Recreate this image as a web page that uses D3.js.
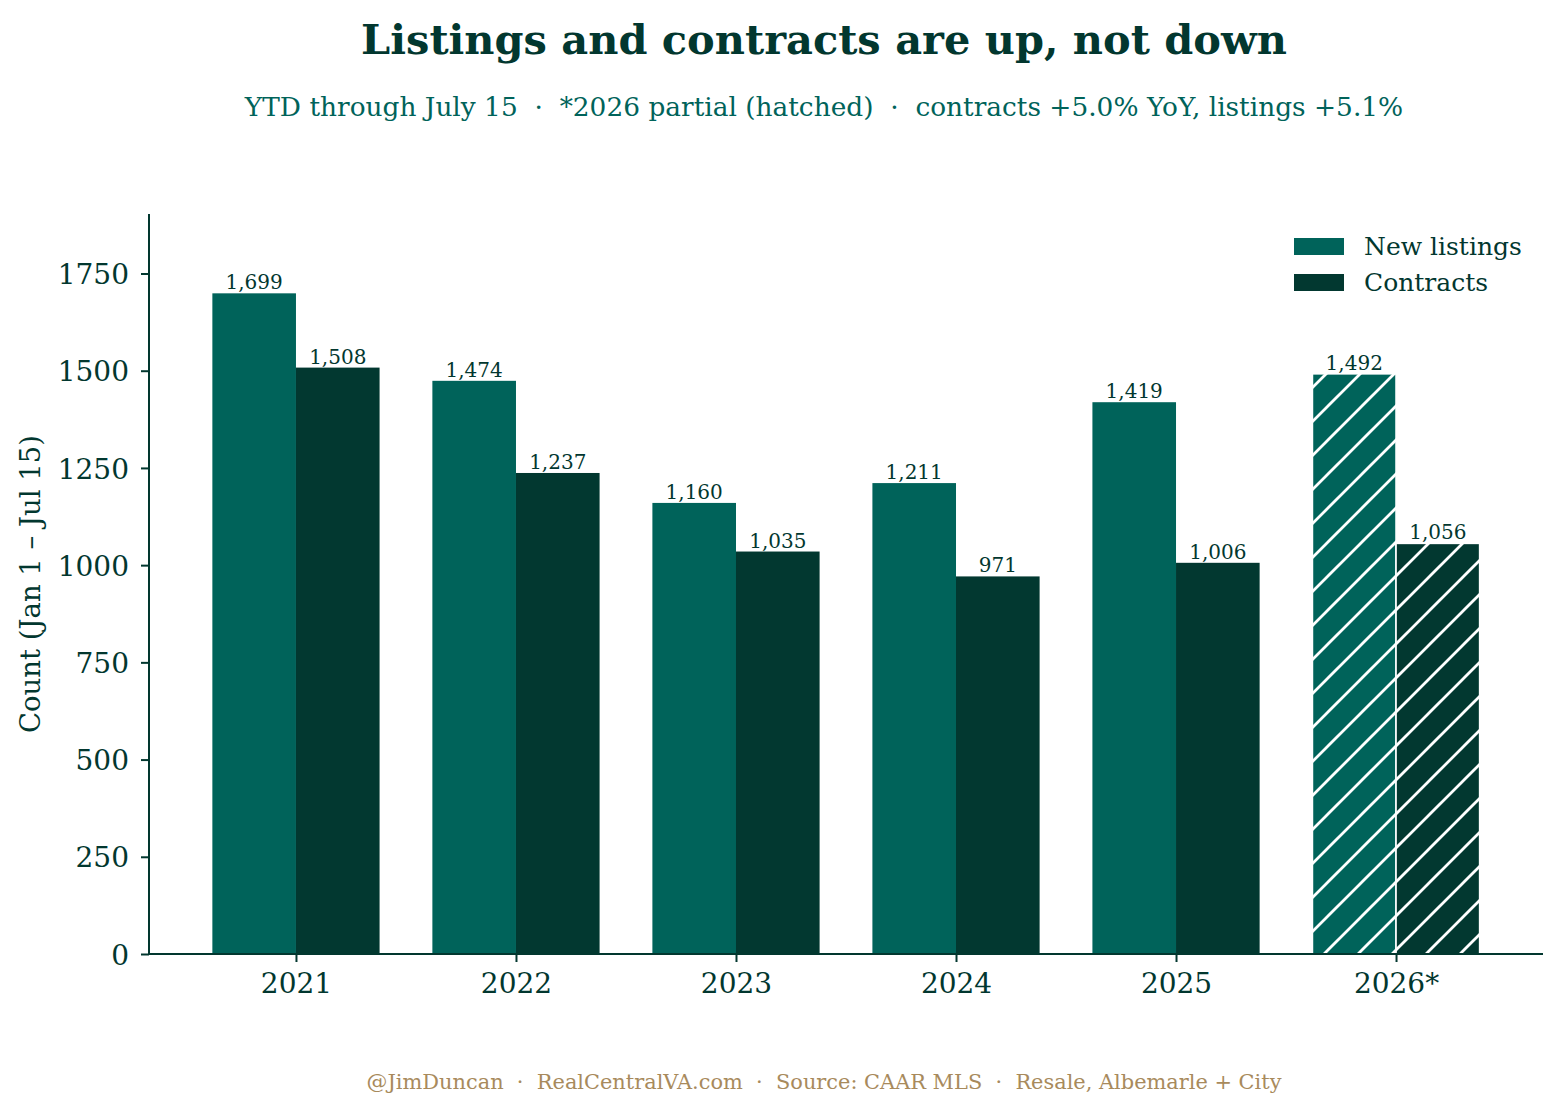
<!DOCTYPE html>
<html>
<head>
<meta charset="utf-8">
<script src="https://cdn.jsdelivr.net/npm/d3@7"></script>
<style>
  body { margin: 0; background: #fff; }
  svg { font-family: "DejaVu Serif", serif; }
</style>
</head>
<body>
<div id="chart"></div>
<script>
// data
var years = ['2021', '2022', '2023', '2024', '2025', '2026*'];
var newListings = [1699, 1474, 1160, 1211, 1419, 1492];
var contracts = [1508, 1237, 1035, 971, 1006, 1056];
var partial = [false, false, false, false, false, true];
var yTicks = [0, 250, 500, 750, 1000, 1250, 1500, 1750];
var seriesNames = ['New listings', 'Contracts'];

var width = 1563,
    height = 1113,
    mLeft = 149, mRight = 1543, mTop = 214, mBottom = 954,
    barW = 0.38;

var cListings = '#00635a',
    cContracts = '#023830',
    ink = '#02372f';

var svg = d3.select('#chart').append('svg')
  .attr('width', width)
  .attr('height', height);

var defs = svg.append('defs');
[['hatchA', cListings], ['hatchB', cContracts]].forEach(function (h) {
  var p = defs.append('pattern')
    .attr('id', h[0])
    .attr('patternUnits', 'userSpaceOnUse')
    .attr('width', 34).attr('height', 34);
  p.append('rect').attr('width', 34).attr('height', 34).attr('fill', h[1]);
  p.append('path')
    .attr('d', 'M-3,37 L37,-3 M-3,3 L3,-3 M31,37 L37,31')
    .attr('stroke', '#fff').attr('stroke-width', 2.8);
});

var x = d3.scaleLinear()
  .domain([-0.668, years.length - 1 + 0.668])
  .range([mLeft, mRight]);

var y = d3.scaleLinear()
  .domain([0, 1903])
  .range([mBottom, mTop]);

// bars
var series = [newListings, contracts];
series.forEach(function (vals, s) {
  var off = s === 0 ? -barW : 0;
  svg.append('g').selectAll('rect')
    .data(vals)
    .join('rect')
    .attr('x', function (d, i) { return x(i + off); })
    .attr('y', function (d) { return y(d); })
    .attr('width', x(barW) - x(0))
    .attr('height', function (d) { return y(0) - y(d); })
    .attr('fill', function (d, i) {
      if (partial[i]) return s === 0 ? 'url(#hatchA)' : 'url(#hatchB)';
      return s === 0 ? cListings : cContracts;
    })
    .attr('stroke', function (d, i) { return partial[i] ? '#fff' : 'none'; })
    .attr('stroke-width', 1.6);

  svg.append('g').selectAll('text')
    .data(vals)
    .join('text')
    .attr('x', function (d, i) { return x(i + off + barW / 2); })
    .attr('y', function (d) { return y(d) - 4; })
    .attr('text-anchor', 'middle')
    .attr('font-size', 20)
    .attr('fill', ink)
    .text(function (d) { return d3.format(',')(d); });
});

// axes
var yAxis = d3.axisLeft(y).tickValues(yTicks).tickSize(8).tickPadding(12).tickFormat(d3.format('d'));
var gy = svg.append('g')
  .attr('transform', 'translate(' + mLeft + ',0)')
  .call(yAxis);
gy.select('.domain').attr('d', 'M0,' + mTop + 'V' + mBottom);
gy.selectAll('.tick text').attr('dy', '0.36em');

var xAxis = d3.axisBottom(x)
  .tickValues(d3.range(years.length))
  .tickFormat(function (i) { return years[i]; })
  .tickSize(8).tickPadding(11);
var gx = svg.append('g')
  .attr('transform', 'translate(0,' + mBottom + ')')
  .call(xAxis);
gx.select('.domain').attr('d', 'M' + mLeft + ',0H' + mRight);

[gx, gy].forEach(function (g) {
  g.selectAll('.domain, .tick line').attr('stroke', ink).attr('stroke-width', 2);
  g.selectAll('.tick text').attr('fill', ink).attr('font-size', 28)
    .attr('font-family', '"DejaVu Serif", serif');
});

// axis title
svg.append('text')
  .attr('transform', 'translate(40,' + (mTop + mBottom) / 2 + ') rotate(-90)')
  .attr('text-anchor', 'middle')
  .attr('font-size', 27.5)
  .attr('fill', ink)
  .text('Count (Jan 1 \u2013 Jul 15)');

// legend
var legend = svg.append('g').attr('transform', 'translate(1294,238)');
seriesNames.forEach(function (name, i) {
  legend.append('rect')
    .attr('x', 0).attr('y', i * 36)
    .attr('width', 50).attr('height', 17)
    .attr('fill', i === 0 ? cListings : cContracts);
  legend.append('text')
    .attr('x', 70).attr('y', i * 36 + 17)
    .attr('font-size', 25)
    .attr('fill', ink)
    .text(name);
});

// titles
svg.append('text')
  .attr('x', 824).attr('y', 54)
  .attr('text-anchor', 'middle')
  .attr('font-size', 41.5).attr('font-weight', 'bold')
  .attr('fill', ink)
  .text('Listings and contracts are up, not down');

svg.append('text')
  .attr('x', 824).attr('y', 116)
  .attr('text-anchor', 'middle')
  .attr('font-size', 26.4)
  .attr('fill', '#00635a')
  .style('white-space', 'pre')
  .text('YTD through July 15  \u00b7  *2026 partial (hatched)  \u00b7  contracts +5.0% YoY, listings +5.1%');

svg.append('text')
  .attr('x', 824).attr('y', 1089)
  .attr('text-anchor', 'middle')
  .attr('font-size', 20.9)
  .attr('fill', '#a88a5c')
  .style('white-space', 'pre')
  .text('@JimDuncan  \u00b7  RealCentralVA.com  \u00b7  Source: CAAR MLS  \u00b7  Resale, Albemarle + City');
</script>
</body>
</html>
